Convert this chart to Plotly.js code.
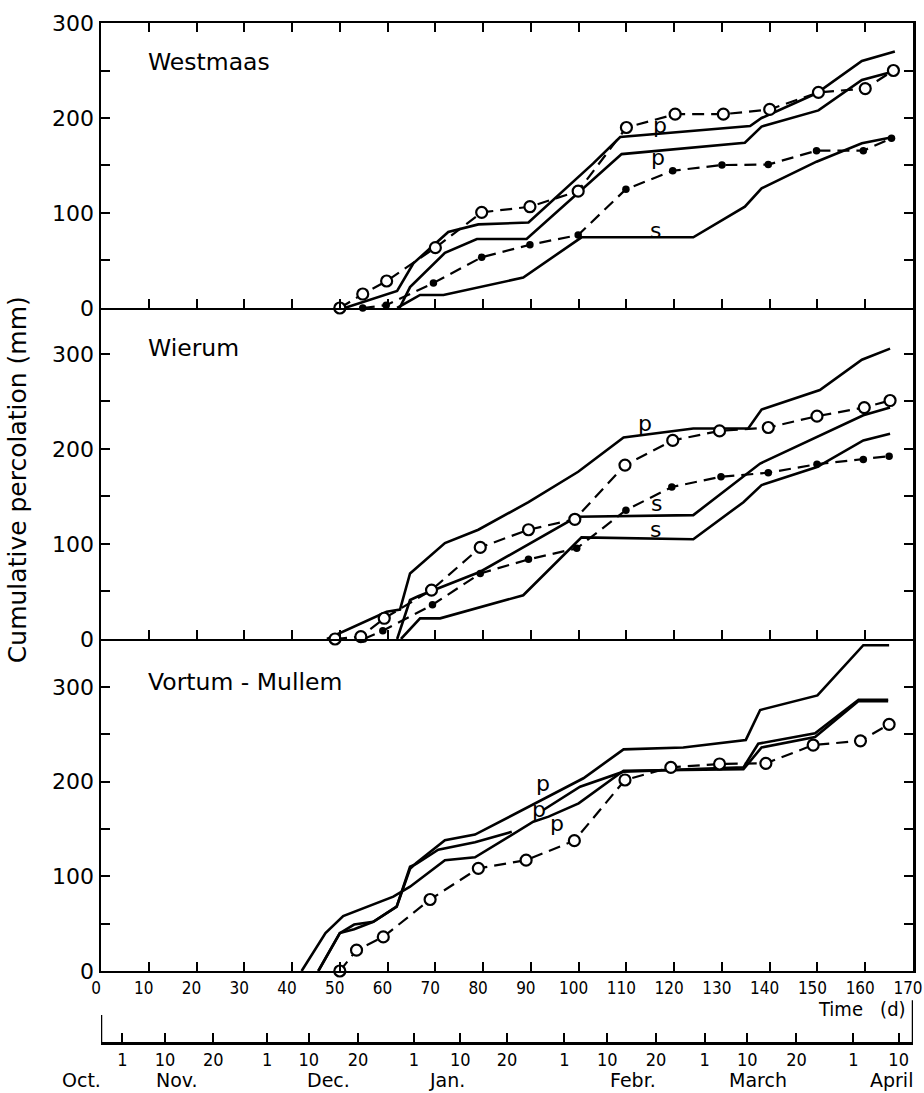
<!DOCTYPE html>
<html><head><meta charset="utf-8">
<script src="https://cdn.plot.ly/plotly-3.0.1.min.js"></script>
<style>html,body{margin:0;padding:0;background:#fff}#chart{width:924px;height:1093px}</style>
</head><body><div id="chart"></div>
<script>
// ---------- Westmaas (top panel) ----------
const wmP1X = [51, 62, 65.4, 72.7, 79, 89.5, 103, 108.7, 135.9, 138.3, 149.8, 159.3, 166.2];
const wmP1Y = [0, 18, 47, 80, 88, 90, 152, 180, 191.6, 200, 226, 260, 270];
const wmP2X = [62.5, 64.7, 72, 78.7, 89.1, 109, 134.8, 138.3, 150.2, 159.3, 165.9];
const wmP2Y = [0, 22, 58, 72.6, 72.6, 162, 174, 191, 208, 240, 249];
const wmSX = [62, 66.8, 71.7, 88.4, 100.6, 124, 134.8, 138.3, 149.8, 159.3, 165.9];
const wmSY = [0, 13.7, 13.7, 32, 74.4, 74.4, 106.6, 126, 154, 173.4, 180];
const wmOX = [50, 54.8, 59.8, 70, 79.7, 89.8, 99.9, 110, 120.2, 130.3, 140, 150.2, 160, 165.9];
const wmOY = [0, 14.7, 28.4, 63.5, 100.7, 106.6, 123, 190, 204, 204, 209, 227, 231, 250];
const wmFX = [54.8, 59.7, 69.6, 79.7, 89.8, 99.9, 109.9, 119.7, 130, 139.7, 149.8, 159.6, 165.5];
const wmFY = [0, 3, 26.3, 53.4, 66.6, 76.8, 125, 144.5, 150.5, 151, 165.6, 165.6, 178.6];

// ---------- Wierum (middle panel) ----------
const wiPX = [47.3, 59.8, 62.6, 64.7, 72, 79, 89.5, 99.9, 109.4, 124, 135.5, 138.3, 150.5, 159.3, 165.2];
const wiPY = [0, 28.7, 31, 69, 101, 115, 144, 176, 212, 221.5, 221.5, 241.5, 262, 294, 305.6];
const wiS1X = [62, 64.7, 66.4, 79.4, 99.6, 124, 138, 149.9, 159.6, 165.2];
const wiS1Y = [0, 41, 45, 70.8, 128.6, 130.4, 184.7, 212.7, 235.5, 243.6];
const wiS2X = [62.8, 66.8, 71, 88.4, 100.6, 124, 134.5, 138.3, 149.9, 159.6, 165.2];
const wiS2Y = [0, 21.7, 21.7, 46, 107, 105, 144, 162, 181, 209, 216];
const wiOX = [49, 54.4, 59.3, 69.2, 79.4, 89.5, 99.2, 109.7, 119.7, 129.5, 139.7, 149.9, 159.8, 165.2];
const wiOY = [0, 2.4, 21.8, 51.5, 96.4, 115, 126, 183, 209, 219, 222.6, 234.5, 243.6, 251];
const wiFX = [55, 59, 69.4, 79.4, 89.5, 99.6, 109.9, 119.5, 129.8, 139.7, 149.9, 159.6, 165];
const wiFY = [0, 8.7, 36, 69, 83.8, 95.4, 135.6, 160, 170.7, 175, 184, 189, 192.4];

// ---------- Vortum - Mullem (bottom panel) ----------
const vmAX = [42, 47, 50.7, 61.2, 64.7, 72, 78.3, 90.5, 93.7, 100, 109.4, 134.5, 138.3, 149.5, 158.6, 164.8];
const vmAY = [0, 40, 58, 78.5, 89, 117, 120, 157.6, 163, 177, 211.5, 213, 236, 247, 285, 285];
const vmBX = [45.5, 50, 53, 57, 61.9, 64.7, 66, 72, 78.3, 92.6, 101, 109.4, 121.9, 135, 138, 150, 159.6, 165];
const vmBY = [0, 40, 44, 52, 68, 108, 114, 138, 144, 182, 203.5, 234, 236, 244, 275.6, 291, 344, 344];
const vmCX = [45.5, 50, 53, 57, 61.9, 64.7, 66, 70.6, 78.3, 86, null, 92.6, 100.3, 109.4, 134.5, 137.6, 149.5, 158.6, 164.8];
const vmCY = [0, 40, 49, 52, 68, 110, 113, 128, 136, 147, null, 170, 194.6, 210.5, 215, 240, 251, 286.5, 286.5];
const vmOX = [50, 53.5, 59.1, 68.9, 79, 89, 99.1, 109.7, 119.3, 129.5, 139.2, 149.1, 159, 165];
const vmOY = [0, 22, 36, 75.5, 108.4, 117, 137.6, 201.7, 215, 218.6, 219.3, 238.6, 243, 260.5];

// ---------- axes labels ----------
const yTickVals = [0, 50, 100, 150, 200, 250, 300];
const yTickText = ['0', '', '100', '', '200', '', '300'];
const calTickVals = [4.5, 13.4, 23.5, 34.8, 43.5, 53.8, 65.5, 75.2, 85, 97, 106, 116.2, 126.4, 135.3, 145.6, 157.5, 167];
const calTickText = ['1', '10', '20', '1', '10', '20', '1', '10', '20', '1', '10', '20', '1', '10', '20', '1', '10'];
const monthNames = ['Oct.', 'Nov.', 'Dec.', 'Jan.', 'Febr.', 'March', 'April'];
const monthPos = [-0.0234, 0.093, 0.28, 0.426, 0.655, 0.809, 0.973];   // paper fractions
const panelNames = ['Westmaas', 'Wierum', 'Vortum - Mullem'];

const BLACK = '#000';
const NARROW = '"Liberation Sans Narrow", "DejaVu Sans Condensed", "Roboto Condensed", "Arial Narrow", sans-serif';
const SANS = '"DejaVu Sans", "Noto Sans", sans-serif';

function solid(x, y, xa, ya) {
  return {x, y, xaxis: xa, yaxis: ya, mode: 'lines', line: {color: BLACK, width: 2.6},
          hoverinfo: 'skip', showlegend: false, connectgaps: false};
}
function openDash(x, y, xa, ya) {
  return {x, y, xaxis: xa, yaxis: ya, mode: 'lines+markers', cliponaxis: false,
          line: {color: BLACK, width: 2.2, dash: '12px,7px'},
          marker: {symbol: 'circle', size: 11, color: '#fff', line: {color: BLACK, width: 2.2}},
          hoverinfo: 'skip', showlegend: false};
}
function filledDash(x, y, xa, ya) {
  return {x, y, xaxis: xa, yaxis: ya, mode: 'lines+markers', cliponaxis: false,
          line: {color: BLACK, width: 2.2, dash: '12px,7px'},
          marker: {symbol: 'circle', size: 7.5, color: BLACK},
          hoverinfo: 'skip', showlegend: false};
}

const traces = [
  solid(wmP1X, wmP1Y, 'x', 'y'), solid(wmP2X, wmP2Y, 'x', 'y'), solid(wmSX, wmSY, 'x', 'y'),
  filledDash(wmFX, wmFY, 'x', 'y'), openDash(wmOX, wmOY, 'x', 'y'),
  solid(wiPX, wiPY, 'x2', 'y2'), solid(wiS1X, wiS1Y, 'x2', 'y2'), solid(wiS2X, wiS2Y, 'x2', 'y2'),
  filledDash(wiFX, wiFY, 'x2', 'y2'), openDash(wiOX, wiOY, 'x2', 'y2'),
  solid(vmAX, vmAY, 'x3', 'y3'), solid(vmBX, vmBY, 'x3', 'y3'), solid(vmCX, vmCY, 'x3', 'y3'),
  openDash(vmOX, vmOY, 'x3', 'y3'),
  {x: [0, 170], y: [null, null], xaxis: 'x4', yaxis: 'y3', mode: 'lines', showlegend: false, hoverinfo: 'skip'}
];

function xAx(anchor, mirror, labels) {
  return {domain: [0, 1], range: [0, 170], anchor: anchor, showline: true, linewidth: 2.5, linecolor: BLACK,
          mirror: mirror, ticks: 'inside', ticklen: 9, tickwidth: 2, tickcolor: BLACK,
          tick0: 0, dtick: 10, showgrid: false, zeroline: false, showticklabels: labels,
          ticklabelshift: -5, ticklabeloverflow: 'allow',
          tickfont: {family: NARROW, size: 17, color: BLACK}, fixedrange: true};
}
function yAx(anchor, domain, top) {
  return {domain: domain, range: [0, top], anchor: anchor, showline: true, linewidth: 2.5, linecolor: BLACK,
          mirror: 'ticks', ticks: 'inside', ticklen: 9, tickwidth: 2, tickcolor: BLACK,
          tickvals: yTickVals, ticktext: yTickText, showgrid: false, zeroline: false,
          tickfont: {family: SANS, size: 22, color: BLACK}, fixedrange: true};
}

const annotations = [];
const panelY = [[259, 'y'], [306, 'y2'], [305, 'y3']];
panelNames.forEach((n, i) => annotations.push({text: n, xref: 'paper', yref: panelY[i][1], x: 0.056, y: panelY[i][0],
  xanchor: 'left', yanchor: 'middle', showarrow: false, font: {family: SANS, size: 23.5, color: BLACK}}));
const curveLabels = [
  ['p', 117, 192.6, 'y'], ['p', 116.6, 158, 'y'], ['s', 116, 82, 'y'],
  ['p', 113.9, 227, 'y2'], ['s', 116.4, 143, 'y2'], ['s', 116, 115.7, 'y2'],
  ['p', 92.5, 198.5, 'y3'], ['p', 91.7, 171, 'y3'], ['p', 95.5, 156, 'y3']
];
const xrefFor = {y: 'x', y2: 'x2', y3: 'x3'};
curveLabels.forEach(c => annotations.push({text: c[0], xref: xrefFor[c[3]], yref: c[3], x: c[1], y: c[2],
  xanchor: 'center', showarrow: false, font: {family: SANS, size: 22, color: BLACK}}));
monthNames.forEach((m, i) => annotations.push({text: m, xref: 'paper', yref: 'paper', x: monthPos[i], y: -0.036,
  xanchor: 'center', yanchor: 'middle', showarrow: false, font: {family: SANS, size: 19, color: BLACK}}));
annotations.push({text: 'Time   (d)', xref: 'paper', yref: 'paper', x: 0.937, y: 0.033, xanchor: 'center', yanchor: 'middle',
  showarrow: false, font: {family: NARROW, size: 20, color: BLACK}});
annotations.push({text: 'Cumulative percolation (mm)', xref: 'paper', yref: 'paper', x: -0.102, y: 0.552,
  xanchor: 'center', textangle: -90, showarrow: false, font: {family: SANS, size: 25, color: BLACK}});

const layout = {
  width: 924, height: 1093,
  margin: {l: 101, r: 11, t: 23, b: 50, pad: 0},
  paper_bgcolor: '#fff', plot_bgcolor: 'rgba(0,0,0,0)',
  showlegend: false,
  xaxis: xAx('y', 'ticks', false),
  yaxis: yAx('x', [0.7206, 1], 300),
  xaxis2: xAx('y2', false, false),
  yaxis2: yAx('x2', [0.3961, 0.7206], 348.4),
  xaxis3: xAx('y3', false, true),
  yaxis3: yAx('x3', [0.0706, 0.3961], 350.6),
  xaxis4: {overlaying: 'x3', anchor: 'free', position: 0, side: 'bottom', range: [0, 170],
           showline: true, linewidth: 2.5, linecolor: BLACK, ticks: 'inside', ticklen: 9, tickwidth: 2,
           tickcolor: BLACK, tickvals: calTickVals, ticktext: calTickText, showgrid: false, zeroline: false,
           tickfont: {family: NARROW, size: 18, color: BLACK}, fixedrange: true},
  shapes: [
    {type: 'line', xref: 'x4', yref: 'paper', x0: 0, x1: 0, y0: 0, y1: 0.0275, line: {color: BLACK, width: 2.5}},
    {type: 'line', xref: 'x4', yref: 'paper', x0: 170, x1: 170, y0: 0, y1: 0.042, line: {color: BLACK, width: 2.5}}
  ],
  annotations: annotations
};

Plotly.newPlot('chart', traces, layout, {displayModeBar: false, staticPlot: true});
</script>
</body></html>
